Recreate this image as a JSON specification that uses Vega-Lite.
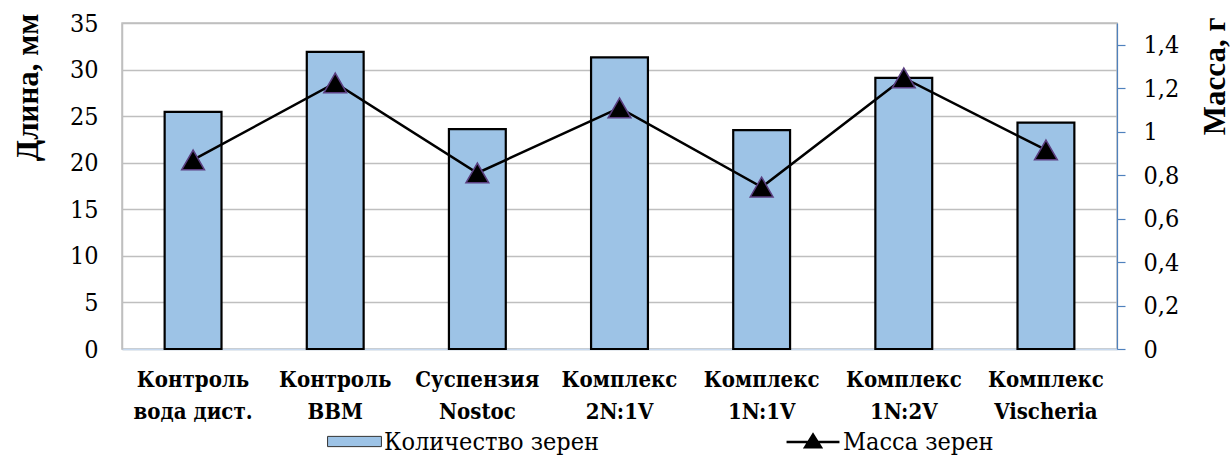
{
  "$schema": "https://vega.github.io/schema/vega-lite/v6.json",
  "autosize": {"type": "none"},
  "width": 995,
  "height": 326,
  "padding": {"left": 122, "top": 23, "right": 115, "bottom": 108},
  "background": "white",
  "config": {
    "view": {"stroke": "#bfbfbf", "strokeWidth": 1.5}
  },
  "data": {
    "values": [
      {"cat": "Контроль|вода дист.", "count": 25.45, "mass": 0.87},
      {"cat": "Контроль|BBM", "count": 31.9, "mass": 1.224},
      {"cat": "Суспензия|Nostoc", "count": 23.6, "mass": 0.81},
      {"cat": "Комплекс|2N:1V", "count": 31.3, "mass": 1.109},
      {"cat": "Комплекс|1N:1V", "count": 23.5, "mass": 0.745},
      {"cat": "Комплекс|1N:2V", "count": 29.1, "mass": 1.247},
      {"cat": "Комплекс|Vischeria", "count": 24.3, "mass": 0.916}
    ]
  },
  "encoding": {
    "x": {
      "field": "cat",
      "type": "nominal",
      "sort": null,
      "scale": {"paddingInner": 0.6, "paddingOuter": 0.3},
      "axis": {
        "title": null,
        "labelAngle": 0,
        "labelExpr": "split(datum.label, '|')",
        "labelFont": "DejaVu Serif Condensed, DejaVu Serif",
        "labelFontWeight": "bold",
        "labelFontSize": 22,
        "labelLineHeight": 32,
        "labelColor": "black",
        "labelPadding": 20,
        "labelLimit": 300,
        "ticks": false,
        "domainColor": "#c6d9f0",
        "domainWidth": 1.5
      }
    }
  },
  "layer": [
    {
      "mark": {"type": "bar", "fill": "#9dc3e6", "stroke": "black", "strokeWidth": 2.2},
      "encoding": {
        "y": {
          "field": "count",
          "type": "quantitative",
          "scale": {"domain": [0, 35], "nice": false},
          "axis": {
            "title": "Длина, мм",
            "titleFont": "Liberation Serif",
            "titleFontWeight": "bold",
            "titleFontSize": 31,
            "titleColor": "black",
            "titleAngle": 270,
            "titleAlign": "right",
            "titleAnchor": null,
            "titleY": -10,
            "titleX": -94,
            "titleBaseline": "middle",
            "values": [0, 5, 10, 15, 20, 25, 30, 35],
            "labelFont": "DejaVu Serif Condensed, DejaVu Serif",
            "labelFontSize": 25,
            "labelColor": "black",
            "labelPadding": 24,
            "ticks": false,
            "domainColor": "#bfbfbf",
            "domainWidth": 1.5,
            "grid": true,
            "gridColor": "#bfbfbf",
            "gridWidth": 1.5
          }
        },
        "fill": {
          "datum": "Количество зерен",
          "scale": {"range": ["#9dc3e6"]},
          "legend": {
            "title": null,
            "orient": "none",
            "legendX": 205,
            "legendY": 391,
            "padding": 0,
            "symbolType": "M-1,-0.19H1V0.19H-1Z",
            "symbolSize": 2900,
            "symbolStrokeColor": "#333",
            "symbolStrokeWidth": 1,
            "labelFont": "DejaVu Serif Condensed, DejaVu Serif",
            "labelFontSize": 25,
            "labelColor": "black",
            "labelOffset": 2,
            "labelLimit": 400
          }
        }
      }
    },
    {
      "layer": [
        {
          "mark": {"type": "line", "strokeWidth": 2.5},
          "encoding": {
            "y": {
              "field": "mass",
              "type": "quantitative",
              "scale": {"domain": [0, 1.5], "nice": false},
              "axis": {
                "orient": "right",
                "title": "Масса, г",
                "titleFont": "Liberation Serif",
                "titleFontWeight": "bold",
                "titleFontSize": 31,
                "titleColor": "black",
                "titleAngle": 270,
                "titleAlign": "right",
                "titleAnchor": null,
                "titleY": -6,
                "titleX": 98,
                "titleBaseline": "middle",
                "values": [0, 0.1, 0.2, 0.3, 0.4, 0.5, 0.6, 0.7, 0.8, 0.9, 1, 1.1, 1.2, 1.3, 1.4, 1.5],
                "format": ".1~f",
                "labelExpr": "round(datum.value*10)%2==0 ? replace(datum.label, '.', ',') : ''",
                "labelFont": "DejaVu Serif Condensed, DejaVu Serif",
                "labelFontSize": 25,
                "labelColor": "black",
                "labelPadding": 18,
                "labelAlign": "left",
                "tickColor": "#4f81bd",
                "tickSize": 8,
                "tickWidth": 1.2,
                "domainColor": "#4f81bd",
                "domainWidth": 1.2,
                "grid": false
              }
            },
            "stroke": {
              "datum": "Масса зерен",
              "scale": {"range": ["black"]},
              "legend": {
                "title": null,
                "orient": "none",
                "legendX": 663,
                "legendY": 391,
                "padding": 0,
                "symbolType": "M-1,0H1M-0.3,0.2L0,-0.28L0.3,0.2Z",
                "symbolSize": 2800,
                "symbolStrokeWidth": 2.5,
                "labelFont": "DejaVu Serif Condensed, DejaVu Serif",
                "labelFontSize": 25,
                "labelColor": "black",
                "labelOffset": 2,
                "labelLimit": 400,
                "encode": {"symbols": {"update": {"fill": {"value": "black"}}}}
              }
            }
          }
        },
        {
          "mark": {"type": "point", "shape": "triangle-up", "filled": true, "fill": "black", "stroke": "#5b3f80", "strokeWidth": 1.5, "size": 520, "opacity": 1},
          "encoding": {
            "y": {"field": "mass", "type": "quantitative", "scale": {"domain": [0, 1.5], "nice": false}}
          }
        }
      ]
    }
  ],
  "resolve": {"scale": {"y": "independent"}}
}
